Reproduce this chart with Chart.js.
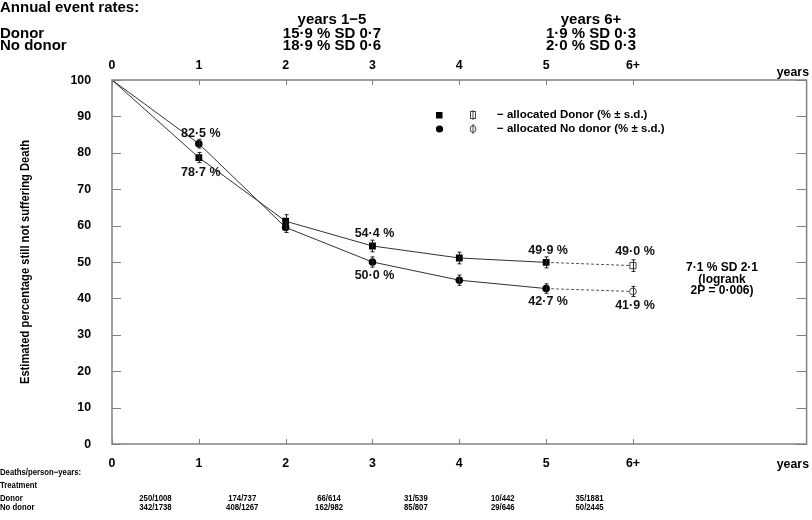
<!DOCTYPE html>
<html>
<head>
<meta charset="utf-8">
<script src="https://cdn.jsdelivr.net/npm/chart.js@4"></script>
<style>
  body { margin: 0; background: #fff; }
  canvas { display: block; }
</style>
</head>
<body>
<canvas id="chart" width="812" height="520"></canvas>
<script>
// Data
const years = [0, 1, 2, 3, 4, 5];
const tickLabels = ['0', '1', '2', '3', '4', '5', '6+'];
const donorSurv = [100, 78.7, 61.2, 54.4, 51.1, 49.9];
const noDonorSurv = [100, 82.5, 59.5, 50.0, 45.0, 42.7];
const lateYears = [5, 6];
const donorLate = [49.9, 49.0];
const noDonorLate = [42.7, 41.9];
const donorSd = [0, 1.4, 1.8, 1.6, 1.6, 1.5];
const noDonorSd = [0, 1.2, 1.4, 1.4, 1.4, 1.3];
const donorLateSd = [0, 1.6];
const noDonorLateSd = [0, 1.4];
const donorLabels = ['', '78·7 %', '', '54·4 %', '', '49·9 %'];
const noDonorLabels = ['', '82·5 %', '', '50·0 %', '', '42·7 %'];
const donorLateLabels = ['', '49·0 %'];
const noDonorLateLabels = ['', '41·9 %'];
const deathsDonor = ['250/1008', '174/737', '66/614', '31/539', '10/442', '35/1881'];
const deathsNoDonor = ['342/1738', '408/1267', '162/982', '85/807', '29/646', '50/2445'];

const FONT = "'Liberation Sans', Arial, sans-serif";

const pts = (xs, ys) => xs.map((x, i) => ({ x: x, y: ys[i] }));

// text squeezed horizontally (the original uses a condensed face)
function squeezed(ctx, str, x, y, align, sx) {
  ctx.save();
  ctx.translate(x, y);
  ctx.scale(sx, 1);
  ctx.textAlign = align;
  ctx.fillText(str, 0, 0);
  ctx.restore();
}

// Error bars, value labels and all the axis furniture
const decor = {
  id: 'decor',
  afterDatasetsDraw(chart) {
    const ctx = chart.ctx;
    const xs = chart.scales.x, ys = chart.scales.y;
    const area = chart.chartArea;

    // error bars
    chart.data.datasets.forEach(ds => {
      ds.data.forEach((p, i) => {
        const sd = ds.sd[i];
        if (!sd) return;
        const px = Math.round(xs.getPixelForValue(p.x)) + 0.5;
        const y1 = ys.getPixelForValue(p.y + sd), y2 = ys.getPixelForValue(p.y - sd);
        ctx.save();
        ctx.strokeStyle = '#222';
        ctx.lineWidth = 1;
        ctx.beginPath();
        ctx.moveTo(px, y1); ctx.lineTo(px, y2);
        ctx.moveTo(px - 2, y1); ctx.lineTo(px + 2, y1);
        ctx.moveTo(px - 2, y2); ctx.lineTo(px + 2, y2);
        ctx.stroke();
        ctx.restore();
      });
    });

    // value labels
    ctx.save();
    ctx.fillStyle = '#111';
    ctx.font = 'bold 12.5px ' + FONT;
    ctx.textAlign = 'center';
    ctx.textBaseline = 'middle';
    chart.data.datasets.forEach(ds => {
      ds.data.forEach((p, i) => {
        const t = ds.labels[i];
        if (!t) return;
        ctx.fillText(t, xs.getPixelForValue(p.x) + 2, ys.getPixelForValue(p.y) + ds.labelOffset[i]);
      });
    });
    ctx.restore();

    // frame and ticks
    ctx.save();
    ctx.strokeStyle = '#808080';
    ctx.lineWidth = 1.5;
    ctx.strokeRect(area.left, area.top, area.right - area.left, area.bottom - area.top);
    ctx.lineWidth = 1;
    ctx.beginPath();
    for (let v = 0; v <= 100; v += 10) {
      const py = Math.round(ys.getPixelForValue(v)) + 0.5;
      ctx.moveTo(area.left, py); ctx.lineTo(area.left + 9, py);
      ctx.moveTo(area.right - 10, py); ctx.lineTo(area.right, py);
    }
    tickLabels.forEach((t, i) => {
      const px = Math.round(xs.getPixelForValue(i)) + 0.5;
      ctx.moveTo(px, area.top); ctx.lineTo(px, area.top + 5);
      ctx.moveTo(px, area.bottom); ctx.lineTo(px, area.bottom - 5);
    });
    ctx.stroke();

    ctx.fillStyle = '#000';
    ctx.font = 'bold 13px ' + FONT;
    ctx.textBaseline = 'middle';
    for (let v = 0; v <= 100; v += 10) {
      squeezed(ctx, String(v), 91, ys.getPixelForValue(v), 'right', 0.95);
    }
    tickLabels.forEach((t, i) => {
      const px = xs.getPixelForValue(i);
      squeezed(ctx, t, px, area.top - 15, 'center', 0.95);
      squeezed(ctx, t, px, area.bottom + 19, 'center', 0.95);
    });
    squeezed(ctx, 'years', 809, area.top - 8, 'right', 0.95);
    squeezed(ctx, 'years', 809, area.bottom + 20, 'right', 0.95);

    // y axis title
    ctx.save();
    ctx.translate(25, 262);
    ctx.rotate(-Math.PI / 2);
    ctx.font = 'bold 13px ' + FONT;
    squeezed(ctx, 'Estimated percentage still not suffering Death', 0, 0, 'center', 0.86);
    ctx.restore();

    // header: annual event rates
    ctx.font = 'bold 15px ' + FONT;
    ctx.textAlign = 'left';
    ctx.fillText('Annual event rates:', 0, 8);
    ctx.fillText('Donor', 0, 34);
    ctx.fillText('No donor', 0, 46);
    ctx.textAlign = 'center';
    ctx.fillText('years 1\u22125', 332, 20);
    ctx.fillText('15·9 % SD 0·7', 332, 34);
    ctx.fillText('18·9 % SD 0·6', 332, 46);
    ctx.fillText('years 6+', 591, 20);
    ctx.fillText('1·9 % SD 0·3', 591, 34);
    ctx.fillText('2·0 % SD 0·3', 591, 46);

    // legend
    ctx.font = 'bold 11.5px ' + FONT;
    ctx.textAlign = 'left';
    ctx.fillText('\u2212 allocated Donor (% ± s.d.)', 497, 115);
    ctx.fillText('\u2212 allocated No donor (% ± s.d.)', 497, 129);
    ctx.fillRect(436, 112, 6.5, 6.5);
    ctx.beginPath(); ctx.arc(439.5, 129, 3.6, 0, Math.PI * 2); ctx.fill();
    ctx.strokeStyle = '#444';
    ctx.strokeRect(470.5, 111.5, 5, 7);
    ctx.beginPath(); ctx.ellipse(473, 129, 2.8, 3.4, 0, 0, Math.PI * 2); ctx.stroke();
    ctx.beginPath();
    ctx.moveTo(473, 110); ctx.lineTo(473, 120);
    ctx.moveTo(473, 124); ctx.lineTo(473, 134);
    ctx.stroke();

    // logrank note
    ctx.font = 'bold 12px ' + FONT;
    ctx.textAlign = 'center';
    ctx.fillText('7·1 % SD 2·1', 722, 268);
    ctx.fillText('(logrank', 722, 280);
    ctx.fillText('2P = 0·006)', 722, 291);

    // deaths / person-years table
    ctx.font = 'bold 9px ' + FONT;
    squeezed(ctx, 'Deaths/person\u2212years:', 0, 473, 'left', 0.86);
    squeezed(ctx, 'Treatment', 0, 486, 'left', 0.86);
    squeezed(ctx, 'Donor', 0, 499, 'left', 0.86);
    squeezed(ctx, 'No donor', 0, 508, 'left', 0.86);
    deathsDonor.forEach((t, i) => {
      const px = xs.getPixelForValue(i + 0.5);
      squeezed(ctx, t, px, 499, 'center', 0.86);
      squeezed(ctx, deathsNoDonor[i], px, 508, 'center', 0.86);
    });
    ctx.restore();
  }
};

const ctx = document.getElementById('chart').getContext('2d');
new Chart(ctx, {
  type: 'line',
  data: {
    datasets: [
      {
        data: pts(years, donorSurv), sd: donorSd, labels: donorLabels,
        labelOffset: [0, 15, 0, -12, 0, -12],
        borderColor: '#333', borderWidth: 1, pointStyle: 'rect',
        pointRadius: years.map(y => y === 0 ? 0 : 4.8),
        pointBackgroundColor: '#000', pointBorderColor: '#000', pointBorderWidth: 0
      },
      {
        data: pts(lateYears, donorLate), sd: donorLateSd, labels: donorLateLabels,
        labelOffset: [0, -14],
        borderColor: '#555', borderWidth: 1, borderDash: [3, 2], pointStyle: 'rect',
        pointRadius: [0, 4.4], pointBackgroundColor: '#fff', pointBorderColor: '#444', pointBorderWidth: 1
      },
      {
        data: pts(years, noDonorSurv), sd: noDonorSd, labels: noDonorLabels,
        labelOffset: [0, -10, 0, 14, 0, 13],
        borderColor: '#333', borderWidth: 1, pointStyle: 'circle',
        pointRadius: years.map(y => y === 0 ? 0 : 3.8),
        pointBackgroundColor: '#000', pointBorderColor: '#000', pointBorderWidth: 0
      },
      {
        data: pts(lateYears, noDonorLate), sd: noDonorLateSd, labels: noDonorLateLabels,
        labelOffset: [0, 14],
        borderColor: '#555', borderWidth: 1, borderDash: [3, 2], pointStyle: 'circle',
        pointRadius: [0, 3.4], pointBackgroundColor: '#fff', pointBorderColor: '#444', pointBorderWidth: 1
      }
    ]
  },
  options: {
    responsive: false,
    animation: false,
    layout: { padding: { left: 112, right: 4, top: 80, bottom: 76 } },
    plugins: { legend: { display: false }, tooltip: { enabled: false } },
    scales: {
      x: { type: 'linear', min: 0, max: 8, display: false },
      y: { type: 'linear', min: 0, max: 100, display: false }
    },
    elements: { line: { tension: 0 } }
  },
  plugins: [decor]
});
</script>
</body>
</html>
